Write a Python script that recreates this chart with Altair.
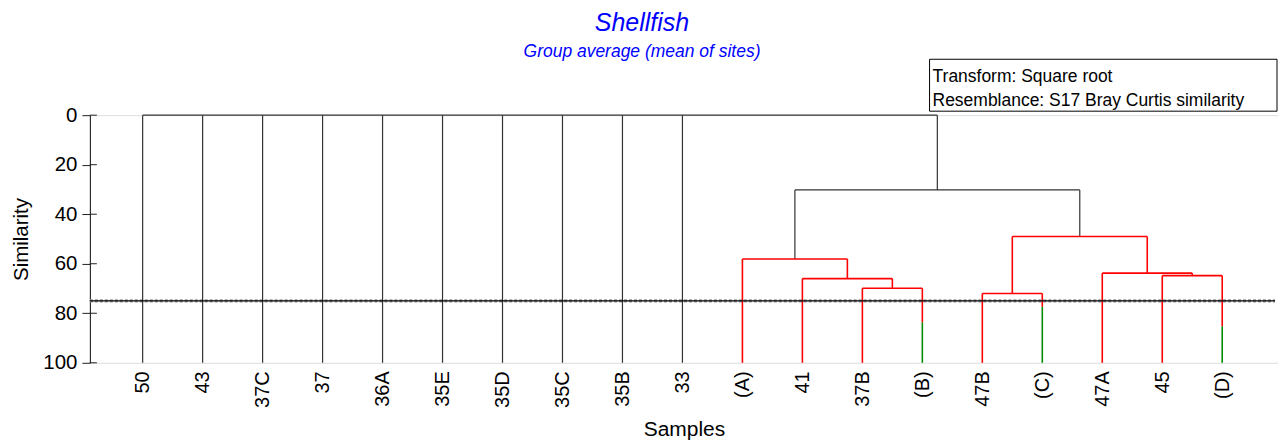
import altair as alt
import pandas as pd

# ---------------- data ----------------
leaf_labels = ["50", "43", "37C", "37", "36A", "35E", "35D", "35C", "35B", "33",
               "(A)", "41", "37B", "(B)", "47B", "(C)", "47A", "45", "(D)"]

# within-group (mean of sites) similarity for the grouped samples (green part)
group_names = ["(B)", "(C)", "(D)"]
group_within_sim = [83.7, 77.4, 85.3]

# binary merges: id, left child, right child, similarity, colour group
merge_ids = ["n1", "n2", "n3", "n4", "n5", "n6", "n7", "n8"]
merge_left = ["37B", "41", "(A)", "47B", "45", "47A", "n4", "n3"]
merge_right = ["(B)", "n1", "n2", "(C)", "(D)", "n5", "n6", "n7"]
merge_sim = [69.9, 66.0, 58.1, 72.0, 64.8, 63.8, 49.0, 30.2]
merge_colour = ["red", "red", "red", "red", "red", "red", "red", "black"]

# final multi-way join at similarity 0
root_children = ["50", "43", "37C", "37", "36A", "35E", "35D", "35C", "35B", "33", "n8"]
root_sim = 0.0

cut_level = 75.0
y_tick_values = [0, 20, 40, 60, 80, 100]

title_text = "Shellfish"
subtitle_text = "Group average (mean of sites)"
legend_lines = ["Transform: Square root", "Resemblance: S17 Bray Curtis similarity"]

# ---------------- build dendrogram segments ----------------
pos = {lab: float(i) for i, lab in enumerate(leaf_labels)}
height = {lab: 100.0 for lab in leaf_labels}
within = dict(zip(group_names, group_within_sim))
segs = []


def add_node(node_id, children, sim, colour):
    xs = [pos[c] for c in children]
    segs.append(dict(x=min(xs), x2=max(xs), y=sim, y2=sim, c=colour))
    for ch in children:
        base = height[ch]
        if ch in within:
            segs.append(dict(x=pos[ch], x2=pos[ch], y=base, y2=within[ch], c="green"))
            base = within[ch]
        segs.append(dict(x=pos[ch], x2=pos[ch], y=base, y2=sim, c=colour))
    if node_id is not None:
        pos[node_id] = (xs[0] + xs[-1]) / 2.0
        height[node_id] = sim


for nid, l, r, s, col in zip(merge_ids, merge_left, merge_right, merge_sim, merge_colour):
    add_node(nid, [l, r], s, col)
add_node(None, root_children, root_sim, "black")

seg_df = pd.DataFrame(segs)

x_min, x_max = -0.88, 18.93
label_expr = "[" + ",".join("'" + s + "'" for s in leaf_labels) + "][datum.value]"

X = alt.X("x:Q",
          scale=alt.Scale(domain=[x_min, x_max], nice=False, zero=False),
          axis=alt.Axis(values=list(range(len(leaf_labels))), labelExpr=label_expr,
                        labelAngle=270, labelFontSize=20, labelColor="black",
                        labelPadding=8, ticks=False, domain=False, grid=False,
                        labelOverlap=False, labelBound=False,
                        title="Samples", titleFontSize=21, titleFontWeight="normal",
                        titleColor="black", titlePadding=11))
Y = alt.Y("y:Q",
          scale=alt.Scale(domain=[0, 100], reverse=True, nice=False, zero=False),
          axis=alt.Axis(values=y_tick_values, labelFontSize=20.5, labelColor="black",
                        tickSize=8, tickColor="#222", domainColor="#111", labelPadding=5,
                        grid=False, title="Similarity", titleFontSize=20.5,
                        titleFontWeight="normal", titleColor="black", titlePadding=11))

base = alt.Chart(seg_df)
black_l = base.transform_filter(alt.datum.c == "black").mark_rule(
    color="#333333", strokeWidth=1.2).encode(x=X, x2="x2:Q", y=Y, y2="y2:Q")
red_l = base.transform_filter(alt.datum.c == "red").mark_rule(
    color="#ff0000", strokeWidth=1.6).encode(x=X, x2="x2:Q", y=Y, y2="y2:Q")
green_l = base.transform_filter(alt.datum.c == "green").mark_rule(
    color="#008a00", strokeWidth=1.6).encode(x=X, x2="x2:Q", y=Y, y2="y2:Q")

cut_df = pd.DataFrame({"x": [x_min], "x2": [x_max - 0.05], "y": [cut_level]})
cut_bg = alt.Chart(cut_df).mark_rule(color="#9a9a9a", strokeWidth=3.2,
                                     strokeDash=[3, 2]).encode(x=X, x2="x2:Q", y=Y)
cut_fg = alt.Chart(cut_df).mark_rule(color="#000000", strokeWidth=1.1).encode(
    x=X, x2="x2:Q", y=Y)

tick_df = pd.DataFrame({"y": y_tick_values})
inner_ticks = alt.Chart(tick_df).mark_rule(color="#222", strokeWidth=1).encode(
    y=Y, x=alt.value(0), x2=alt.value(7))

title_m = alt.Chart(pd.DataFrame({"t": [title_text]})).mark_text(
    font="Liberation Sans", fontSize=25, fontStyle="italic", color="#0000ff",
    align="center", baseline="alphabetic").encode(
    text="t:N", x=alt.value(553), y=alt.value(-84.5))
subtitle_m = alt.Chart(pd.DataFrame({"t": [subtitle_text]})).mark_text(
    font="Liberation Sans", fontSize=17.5, fontStyle="italic", color="#0000ff",
    align="center", baseline="alphabetic").encode(
    text="t:N", x=alt.value(553), y=alt.value(-58))

legend_box = alt.Chart(pd.DataFrame({"a": [1]})).mark_rect(
    fill="white", fillOpacity=0, stroke="black", strokeWidth=1).encode(
    x=alt.value(841), x2=alt.value(1189), y=alt.value(-56), y2=alt.value(-4))
legend_t1 = alt.Chart(pd.DataFrame({"t": [legend_lines[0]]})).mark_text(
    font="Liberation Sans", fontSize=17.5, color="black", align="left",
    baseline="alphabetic").encode(text="t:N", x=alt.value(844), y=alt.value(-33))
legend_t2 = alt.Chart(pd.DataFrame({"t": [legend_lines[1]]})).mark_text(
    font="Liberation Sans", fontSize=17.5, color="black", align="left",
    baseline="alphabetic").encode(text="t:N", x=alt.value(844), y=alt.value(-9))

chart = alt.layer(
    cut_bg, black_l, red_l, green_l, cut_fg, inner_ticks,
    title_m, subtitle_m, legend_box, legend_t1, legend_t2
).properties(
    width=1190, height=248,
    autosize=alt.AutoSizeParams(type="none"),
    padding={"left": 82, "top": 107, "right": 0, "bottom": 78},
    background="white",
).configure_view(stroke=None).configure(font="Liberation Sans")

chart.save("out.html", embed_options={"renderer": "svg", "actions": False})
